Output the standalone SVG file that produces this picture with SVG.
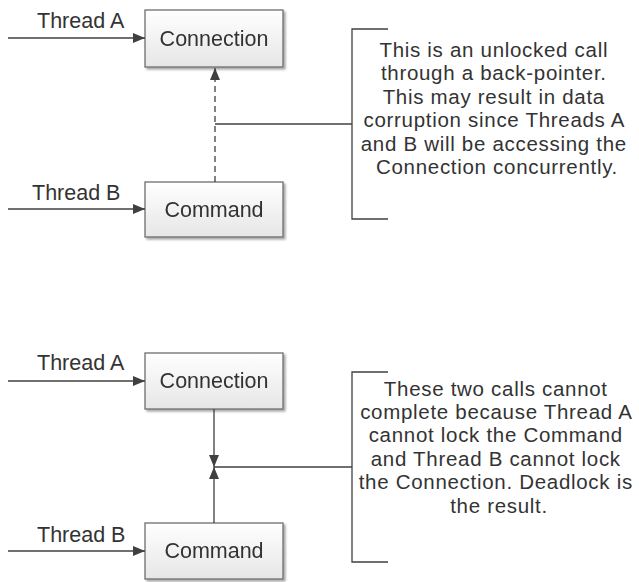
<svg xmlns="http://www.w3.org/2000/svg" width="639" height="582" viewBox="0 0 639 582">
  <defs>
    <linearGradient id="boxFill" x1="0" y1="0" x2="0" y2="1">
      <stop offset="0" stop-color="#ffffff"/>
      <stop offset="1" stop-color="#e6e6e6"/>
    </linearGradient>
    <filter id="shadow" x="-10%" y="-10%" width="130%" height="140%">
      <feGaussianBlur in="SourceAlpha" stdDeviation="1.2"/>
      <feOffset dx="1.5" dy="1.5" result="b"/>
      <feComponentTransfer><feFuncA type="linear" slope="0.35"/></feComponentTransfer>
      <feMerge><feMergeNode/><feMergeNode in="SourceGraphic"/></feMerge>
    </filter>
    <marker id="arrow" viewBox="0 0 12 10" refX="12" refY="5" markerWidth="12" markerHeight="10" markerUnits="userSpaceOnUse" orient="auto">
      <path d="M0,0 L12,5 L0,10 z" fill="#404040"/>
    </marker>
  </defs>
  <style>
    .box { fill: url(#boxFill); stroke: #6e6e6e; stroke-width: 1.3; }
    .label { font-family: "Liberation Sans", Arial, sans-serif; font-size: 21.5px; fill: #333333; }
    .note { font-family: "Liberation Sans", Arial, sans-serif; font-size: 20.5px; letter-spacing: 0.7px; fill: #333333; text-anchor: middle; }
    .mid { text-anchor: middle; }
    .line { stroke: #404040; stroke-width: 1.3; fill: none; }
    .dash { stroke-dasharray: 6 4; }
  </style>

  <!-- Upper scenario: unlocked back-pointer call -->
  <g id="top-connection" filter="url(#shadow)">
    <rect class="box" x="145" y="10" width="138" height="57"/>
    <text class="label mid" x="214" y="46">Connection</text>
  </g>
  <g id="top-command" filter="url(#shadow)">
    <rect class="box" x="145" y="182" width="138" height="55"/>
    <text class="label mid" x="214" y="217">Command</text>
  </g>
  <g id="top-thread-a">
    <text class="label" x="37" y="28">Thread A</text>
  </g>
  <g id="top-thread-b">
    <text class="label" x="32" y="200">Thread B</text>
  </g>
  <g id="top-note">
    <path class="line" d="M388,29 H352 V219 H388"/>
    <text class="note" x="497" y="57">
      <tspan x="497" dy="0">This is an unlocked call</tspan>
      <tspan x="497" dy="23.4">through a back-pointer.</tspan>
      <tspan x="497" dy="23.4">This may result in data</tspan>
      <tspan x="497" dy="23.4">corruption since Threads A</tspan>
      <tspan x="497" dy="23.4">and B will be accessing the</tspan>
      <tspan x="497" dy="23.4">Connection concurrently.</tspan>
    </text>
  </g>

  <!-- Lower scenario: deadlock -->
  <g id="bottom-connection" filter="url(#shadow)">
    <rect class="box" x="145" y="353" width="138" height="56"/>
    <text class="label mid" x="214" y="388">Connection</text>
  </g>
  <g id="bottom-command" filter="url(#shadow)">
    <rect class="box" x="145" y="523" width="138" height="56"/>
    <text class="label mid" x="214" y="558">Command</text>
  </g>
  <g id="bottom-thread-a">
    <text class="label" x="37" y="370">Thread A</text>
  </g>
  <g id="bottom-thread-b">
    <text class="label" x="37" y="542">Thread B</text>
  </g>
  <g id="bottom-note">
    <path class="line" d="M388,372 H352 V562 H388"/>
    <text class="note" x="499" y="395.5">
      <tspan x="499" dy="0">These two calls cannot</tspan>
      <tspan x="499" dy="23.4">complete because Thread A</tspan>
      <tspan x="499" dy="23.4">cannot lock the Command</tspan>
      <tspan x="499" dy="23.4">and Thread B cannot lock</tspan>
      <tspan x="499" dy="23.4">the Connection. Deadlock is</tspan>
      <tspan x="499" dy="23.4">the result.</tspan>
    </text>
  </g>

  <g id="connectors">
    <!-- upper -->
    <line class="line" x1="8" y1="38" x2="145" y2="38" marker-end="url(#arrow)"/>
    <line class="line" x1="8" y1="209" x2="145" y2="209" marker-end="url(#arrow)"/>
    <line class="line dash" x1="215" y1="182" x2="215" y2="68" marker-end="url(#arrow)"/>
    <line class="line" x1="215" y1="124" x2="352" y2="124"/>
    <!-- lower -->
    <line class="line" x1="8" y1="381" x2="145" y2="381" marker-end="url(#arrow)"/>
    <line class="line" x1="8" y1="551" x2="145" y2="551" marker-end="url(#arrow)"/>
    <line class="line" x1="214" y1="409" x2="214" y2="467" marker-end="url(#arrow)"/>
    <line class="line" x1="214" y1="523" x2="214" y2="467" marker-end="url(#arrow)"/>
    <line class="line" x1="214" y1="467" x2="352" y2="467"/>
  </g>
</svg>
